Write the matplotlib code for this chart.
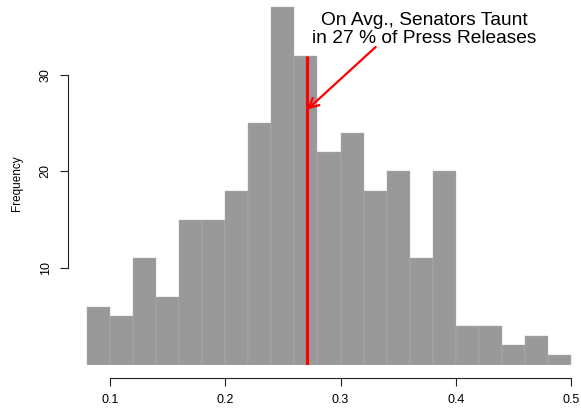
import numpy as np
import matplotlib
matplotlib.use("Agg")
import matplotlib.pyplot as plt

plt.rcParams["font.family"] = ["Liberation Sans", "DejaVu Sans"]

# histogram: share of press releases with taunting, per senator
bin_start = 0.08
bin_width = 0.02
counts = [6, 5, 11, 7, 15, 15, 18, 25, 37, 32, 22, 24, 18, 20, 11, 20, 4, 4, 2, 3, 1]
mean_share = 0.271
mean_line_top = 32
x_ticks = [0.1, 0.2, 0.3, 0.4, 0.5]
x_ticklabels = ["0.1", "0.2", "0.3", "0.4", "0.5"]
y_ticks = [10, 20, 30]
note = "On Avg., Senators Taunt\nin 27 % of Press Releases"

lefts = bin_start + bin_width * np.arange(len(counts))

fig = plt.figure(figsize=(5.81, 4.08), dpi=100)
ax = fig.add_axes([75.4 / 581, 43.5 / 408, (576.8 - 75.4) / 581, (405.4 - 43.5) / 408])

ax.bar(lefts, counts, width=bin_width, align="edge",
       color="#999999", edgecolor="#b4b4b4", linewidth=0.3)

# mean line + note
ax.plot([mean_share, mean_share], [0, mean_line_top], color="red", lw=2.3,
        solid_capstyle="butt")
ax.annotate("", xy=(mean_share, 26.4), xytext=(0.3305, 32.9),
            arrowprops=dict(arrowstyle="->,head_length=0.7,head_width=0.35",
                            color="red", lw=1.6, shrinkA=0, shrinkB=0))
ax.text(0.373, 34.7, note, ha="center", va="center", fontsize=13.8,
        linespacing=1.1)

ax.set_xlim(0.07, 0.505)
ax.set_ylim(0, 37.5)

# R-like axes
for s in ["top", "right"]:
    ax.spines[s].set_visible(False)
ax.spines["left"].set_position(("outward", 5.5))
ax.spines["bottom"].set_position(("outward", 9.7))
ax.spines["left"].set_bounds(10, 30)
ax.spines["bottom"].set_bounds(0.1, 0.5)
for s in ["left", "bottom"]:
    ax.spines[s].set_linewidth(0.8)
    ax.spines[s].set_color("#222222")

ax.set_xticks(x_ticks)
ax.set_xticklabels(x_ticklabels)
ax.set_yticks(y_ticks)
ax.set_yticklabels([str(v) for v in y_ticks], rotation=90, va="center")
ax.tick_params(axis="both", length=5.5, width=0.8, color="#222222",
               labelsize=9, pad=6)
ax.set_ylabel("Frequency", fontsize=8.5, labelpad=12)

fig.savefig("out.png", dpi=100)
